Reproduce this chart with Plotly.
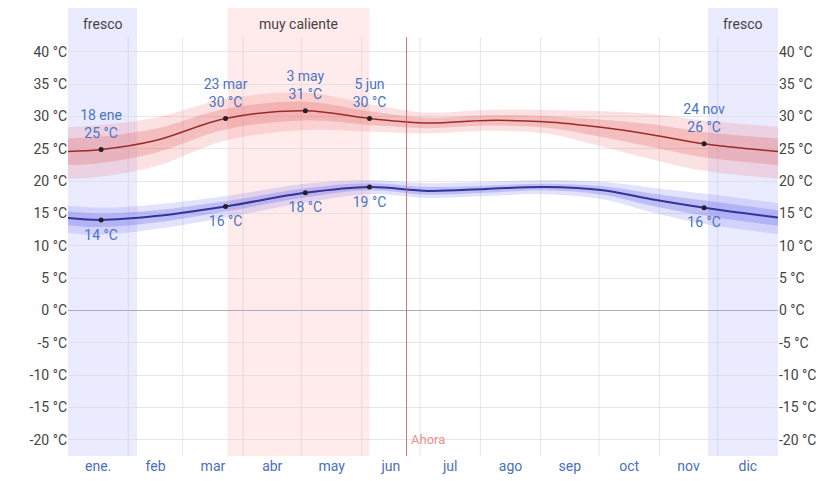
import plotly.graph_objects as go

# ---- data ----
days = [0, 17, 45, 81, 122, 155, 185, 215, 245, 275, 300, 327, 365]
high = [24.6, 24.9, 26.3, 29.7, 30.9, 29.7, 29.0, 29.4, 29.2, 28.3, 27.2, 25.8, 24.6]
high_p90 = [28.4, 28.7, 29.8, 32.7, 33.7, 31.9, 30.6, 31.0, 31.0, 30.8, 30.4, 29.4, 28.4]
high_p75 = [26.6, 26.9, 28.1, 31.2, 32.3, 30.8, 29.8, 30.2, 30.1, 29.5, 28.8, 27.6, 26.6]
high_p25 = [22.5, 22.8, 24.4, 28.0, 29.4, 28.7, 28.2, 28.6, 28.3, 26.8, 25.3, 23.7, 22.5]
high_p10 = [20.4, 20.7, 22.3, 26.3, 27.9, 27.7, 27.4, 27.8, 27.4, 25.3, 23.4, 21.6, 20.4]

low = [14.3, 14.0, 14.6, 16.1, 18.2, 19.1, 18.5, 18.8, 19.1, 18.6, 17.2, 15.9, 14.4]
low_p90 = [16.2, 15.9, 16.4, 17.7, 19.6, 20.2, 19.7, 19.9, 20.2, 19.9, 19.0, 18.1, 16.6]
low_p75 = [15.3, 15.0, 15.5, 16.9, 18.9, 19.7, 19.1, 19.3, 19.6, 19.2, 18.1, 17.0, 15.5]
low_p25 = [13.2, 12.9, 13.6, 15.3, 17.5, 18.6, 17.9, 18.2, 18.6, 17.9, 16.2, 14.7, 13.1]
low_p10 = [12.0, 11.7, 12.6, 14.4, 16.7, 18.0, 17.4, 17.7, 18.0, 17.2, 15.2, 13.4, 11.8]

high_mark_idx = [1, 3, 4, 5, 11]
high_mark_dates = ["18 ene", "23 mar", "3 may", "5 jun", "24 nov"]
low_mark_idx = [1, 3, 4, 5, 11]

month_labels = ["ene.", "feb", "mar", "abr", "may", "jun", "jul", "ago", "sep", "oct", "nov", "dic"]
month_centers = [15.5, 45, 74.5, 105, 135.5, 166, 196.5, 227.5, 258, 288.5, 319, 349.5]
month_bounds = [31, 59, 90, 120, 151, 181, 212, 243, 273, 304, 334]

y_ticks = list(range(-20, 45, 5))
y_labels = [f"{v} °C" for v in y_ticks]

cool_periods = [(0, 35.5), (329, 365)]
hot_period = (82, 155)
now_day = 174

# ---- figure ----
fig = go.Figure()

def band(lo, hi, color):
    fig.add_trace(go.Scatter(x=days, y=hi, mode="lines", line=dict(width=0, shape="spline"),
                             hoverinfo="skip", showlegend=False))
    fig.add_trace(go.Scatter(x=days, y=lo, mode="lines", line=dict(width=0, shape="spline"),
                             fill="tonexty", fillcolor=color, hoverinfo="skip", showlegend=False))

band(high_p10, high_p90, "rgba(235,120,120,0.22)")
band(high_p25, high_p75, "rgba(225,100,100,0.28)")
band(low_p10, low_p90, "rgba(110,110,240,0.20)")
band(low_p25, low_p75, "rgba(90,90,230,0.26)")

fig.add_trace(go.Scatter(x=days, y=high, mode="lines",
                         line=dict(color="#9b2a2a", width=1.5, shape="spline"), showlegend=False))
fig.add_trace(go.Scatter(x=days, y=low, mode="lines",
                         line=dict(color="#33339a", width=2, shape="spline"), showlegend=False))

label_color = "#4a74c4"
hx = [days[i] for i in high_mark_idx]
hy = [high[i] for i in high_mark_idx]
lx = [days[i] for i in low_mark_idx]
ly = [low[i] for i in low_mark_idx]

# labels (invisible larger markers give the text some distance)
fig.add_trace(go.Scatter(
    x=hx, y=hy, mode="markers+text", marker=dict(size=11, opacity=0),
    text=[f"{d}<br>{round(high[i])} °C" for d, i in zip(high_mark_dates, high_mark_idx)],
    textposition="top center", textfont=dict(color=label_color, size=14, family="Roboto"),
    hoverinfo="skip", showlegend=False))
fig.add_trace(go.Scatter(
    x=lx, y=ly, mode="markers+text", marker=dict(size=13, opacity=0),
    text=[f"{round(low[i])} °C" for i in low_mark_idx],
    textposition="bottom center", textfont=dict(color=label_color, size=14, family="Roboto"),
    hoverinfo="skip", showlegend=False))
# visible points
fig.add_trace(go.Scatter(x=hx + lx, y=hy + ly, mode="markers",
                         marker=dict(color="#222", size=5), showlegend=False))

# right axis mirror
fig.add_trace(go.Scatter(x=[days[0]], y=[high[0]], yaxis="y2", mode="markers",
                         marker=dict(opacity=0), hoverinfo="skip", showlegend=False))

shapes = []
for a, b in cool_periods:
    shapes.append(dict(type="rect", xref="x", yref="paper", x0=a, x1=b, y0=0, y1=1.08,
                       fillcolor="rgba(130,130,255,0.16)", line=dict(width=0), layer="below"))
shapes.append(dict(type="rect", xref="x", yref="paper", x0=hot_period[0], x1=hot_period[1],
                   y0=0, y1=1.08, fillcolor="rgba(255,130,130,0.16)", line=dict(width=0), layer="below"))
for b in month_bounds:
    shapes.append(dict(type="line", xref="x", yref="paper", x0=b, x1=b, y0=0, y1=1,
                       line=dict(color="rgba(200,200,200,0.45)", width=1), layer="below"))
shapes.append(dict(type="line", xref="x", yref="paper", x0=now_day, x1=now_day, y0=0, y1=1,
                   line=dict(color="rgba(215,90,90,0.85)", width=1)))

annotations = []
for a, b in cool_periods:
    annotations.append(dict(x=(a + b) / 2, y=1.054, xref="x", yref="paper", text="fresco",
                            showarrow=False, font=dict(size=14, color="#444", family="Roboto")))
annotations.append(dict(x=(hot_period[0] + hot_period[1]) / 2, y=1.054, xref="x", yref="paper",
                        text="muy caliente", showarrow=False,
                        font=dict(size=14, color="#444", family="Roboto")))
annotations.append(dict(x=now_day + 1.5, y=-20, xref="x", yref="y", text="Ahora", showarrow=False,
                        xanchor="left", font=dict(size=13, color="rgba(235,130,130,0.9)", family="Roboto")))

yrange = [-22.5, 42.3]
fig.update_layout(
    width=831, height=473,
    margin=dict(l=60, r=61, t=29, b=25, autoexpand=False),
    paper_bgcolor="white", plot_bgcolor="white",
    font=dict(family="Roboto", size=14, color="#444"),
    shapes=shapes, annotations=annotations,
    xaxis=dict(range=[0, 365], tickvals=month_centers, ticktext=month_labels, showgrid=False,
               zeroline=False, showline=False, ticks="", automargin=False,
               tickfont=dict(color="#4a6fc0", size=14)),
    yaxis=dict(range=yrange, tickvals=y_ticks, ticktext=y_labels, showgrid=True, automargin=False,
               gridcolor="rgba(215,215,215,0.6)", zeroline=True, zerolinecolor="#a8aec0",
               zerolinewidth=1, showline=False, ticks="", tickfont=dict(color="#444", size=14)),
    yaxis2=dict(range=yrange, tickvals=y_ticks, ticktext=y_labels, overlaying="y", side="right",
                showgrid=False, zeroline=False, showline=False, ticks="", automargin=False,
                tickfont=dict(color="#444", size=14)),
)

fig.write_html("out.html")
